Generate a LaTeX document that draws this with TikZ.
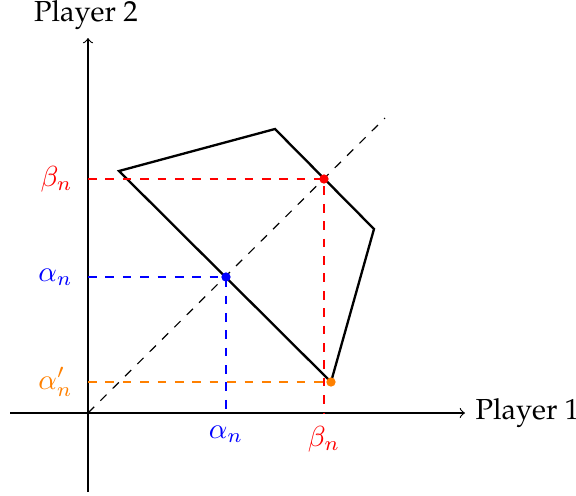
\documentclass[tikz,border=0pt]{standalone}
\usepackage[T1]{fontenc}
\renewcommand{\rmdefault}{ppl}
\begin{document}
\begin{tikzpicture}[x=0.345pt,y=-0.345pt,
  axis/.style={thin,->,>=to},
  poly/.style={thick,line join=miter},
  guide/.style={dashed,thin},
  dot/.style={circle,fill,inner sep=0pt,minimum size=3.2pt}]
\useasboundingbox (0,0) rectangle (576,495);
\coordinate (xs) at (10,413);
\coordinate (xe) at (465,413);
\coordinate (ys) at (88,492);
\coordinate (ye) at (88,38);
\coordinate (O) at (88,413);
\coordinate (dE) at (385,118);
\draw[axis] (xs) -- (xe);
\draw[axis] (ys) -- (ye);
\node[anchor=west,inner sep=0pt] (p1) at (475,413) {Player 1};
\node[inner sep=0pt] (p2) at (86,15) {Player 2};
\draw[guide] (O) -- (dE);
\coordinate (A) at (119,171);
\coordinate (B) at (275,129);
\coordinate (C) at (374,229);
\coordinate (D) at (331,382);
\draw[poly] (A) -- (B) -- (C) -- (D) -- cycle;
\node[dot,blue] (P) at (226,277) {};
\node[dot,red] (Q) at (324,179) {};
\node[dot,orange] (R) at (331,382) {};
\coordinate (Py) at (88,277);
\coordinate (Px) at (226,413);
\coordinate (Qy) at (88,179);
\coordinate (Qx) at (324,413);
\coordinate (Ry) at (88,382);
\draw[guide,blue] (Py) -- (P.center) -- (Px);
\draw[guide,red] (Qy) -- (Q.center) -- (Qx);
\draw[guide,orange] (Ry) -- (R.center);
\node[blue,anchor=east] (la) at (83,277) {$\alpha_n$};
\node[red,anchor=east] (lb) at (83,179) {$\beta_n$};
\node[orange,anchor=east] (lr) at (83,382) {$\alpha'_n$};
\node[blue,anchor=north] (ba) at ([yshift=-1pt]Px) {$\alpha_n$};
\node[red,anchor=north] (bb) at ([yshift=-1pt]Qx) {$\beta_n$};
\end{tikzpicture}
\end{document}
